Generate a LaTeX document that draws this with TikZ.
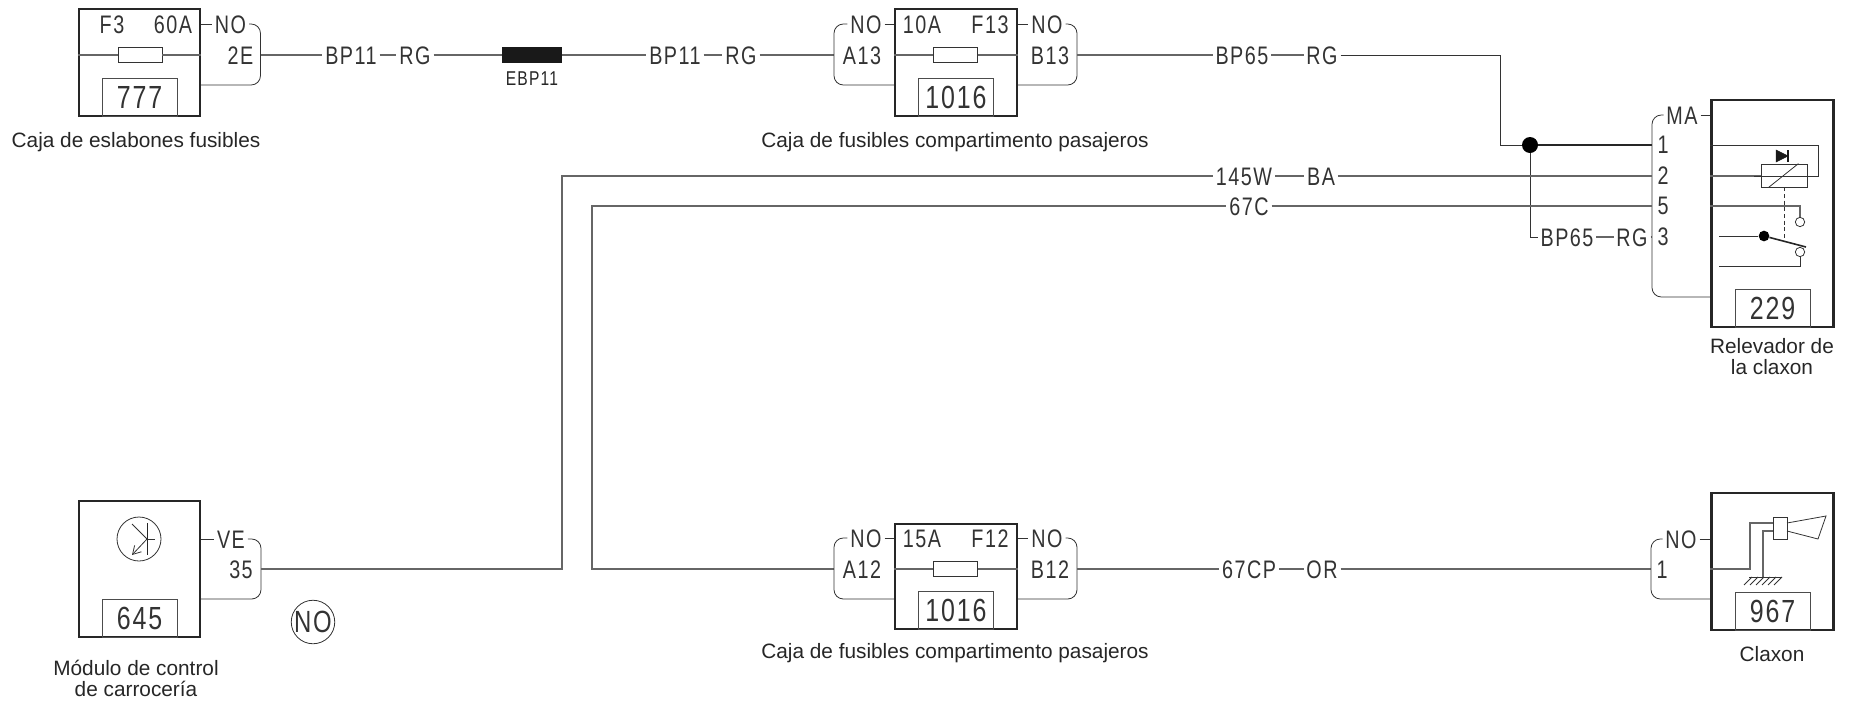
\documentclass[tikz,border=0pt]{standalone}
\usepackage{fontspec}
\setmainfont{Liberation Sans}
\newfontfamily\techfont[FakeStretch=0.78,LetterSpace=6]{Liberation Sans}
\usetikzlibrary{arrows.meta,positioning,calc}

\begin{document}
\begin{tikzpicture}[
    x=0.75pt, y=-0.75pt,
    unit/.style={rectangle, draw=black!85, line width=1.6pt, minimum width=91.5pt, minimum height=80.25pt, inner sep=0pt},
    fuse/.style={rectangle, draw=black!80, line width=0.6pt, fill=white, minimum width=33pt, minimum height=11pt, inner sep=0pt},
    tagbox/.style={rectangle, draw=black!70, line width=0.6pt, minimum width=56.25pt, minimum height=29pt, inner sep=0pt, text=black!80, font=\techfont\fontsize{24}{24}\selectfont},
    lab/.style={inner xsep=2pt, inner ysep=0pt, text height=13.5pt, text depth=0pt, text=black!80, font=\techfont\fontsize{19}{19}\selectfont},
    small/.style={inner xsep=1pt, inner ysep=0pt, text=black!85, font=\techfont\fontsize{15}{15}\selectfont},
    caption/.style={align=center, inner sep=0pt, text=black!85, font=\fontsize{15.6}{15.8}\selectfont},
    wire/.style={line width=0.8pt, draw=black!60},
    thin wire/.style={line width=0.6pt, draw=black!80},
    bracket/.style={line width=0.6pt, draw=black!80, rounded corners=7pt},
    junction/.style={circle, fill=black, draw=none, inner sep=0pt}
]
\useasboundingbox (0,0) rectangle (1849,701);

% fuse box 777
\node[unit, minimum width=90.75pt] (box777) at (139.5,62.5) {};
\node[tagbox, above=0pt of box777.south] (tag777) {777};
\node[fuse] (fuse777) at (140,55) {};
\node[lab] (f3) at (112,24) {F3};
\node[lab] (a60) at (173,24) {60A};
\node[lab] (no777) at (230.5,24) {NO};
\node[lab] (pin2e) at (240.5,55) {2E};
\node[caption] (cap777) at (136,142) {Caja de eslabones fusibles};
\coordinate (out777) at (260.5,55);
\coordinate (br777) at (260.5,85);
\draw[wire] (box777.west |- fuse777) -- (fuse777);
\draw[wire] (fuse777) -- (box777.east |- fuse777);
\draw[thin wire] (box777.east |- no777) -- (no777);
\draw[bracket] (no777.east) -| (br777) -- (box777.east |- br777);

% top wire
\node[lab] (bp11a) at (351,55) {BP11};
\node[lab] (rga) at (415,55) {RG};
\node[rectangle, fill=black!90, minimum width=45pt, minimum height=12pt, inner sep=0pt] (ebp) at (532,55) {};
\node[small, below=6.5pt of ebp.south] (ebptxt) {EBP11};
\node[lab] (bp11b) at (675,55) {BP11};
\node[lab] (rgb) at (741,55) {RG};
\draw[wire] (out777) -- (bp11a);
\draw[wire] (bp11a) -- (rga);
\draw[wire] (rga) -- (ebp);
\draw[wire] (ebp) -- (bp11b);
\draw[wire] (bp11b) -- (rgb);

% fuse box F13
\node[unit] (box13) at (956,62.5) {};
\node[tagbox, above=0pt of box13.south] (tag13) {1016};
\node[fuse] (fuse13) at (955.5,55) {};
\node[lab] (a10) at (922,24) {10A};
\node[lab] (f13) at (990,24) {F13};
\node[lab] (no13a) at (866,24) {NO};
\node[lab] (no13b) at (1047,24) {NO};
\node[lab] (a13) at (862,55) {A13};
\node[lab] (b13) at (1050,55) {B13};
\node[caption] (cap13) at (955,142) {Caja de fusibles compartimento pasajeros};
\coordinate (in13) at (834,55);
\coordinate (out13) at (1077,55);
\coordinate (brl13) at (834,85);
\coordinate (brr13) at (1077,85);
\draw[wire] (rgb) -- (in13);
\draw[wire] (box13.west |- fuse13) -- (fuse13);
\draw[wire] (fuse13) -- (box13.east |- fuse13);
\draw[thin wire] (no13a) -- (box13.west |- no13a);
\draw[thin wire] (box13.east |- no13b) -- (no13b);
\draw[bracket] (no13a.west) -| (brl13) -- (box13.west |- brl13);
\draw[bracket] (no13b.east) -| (brr13) -- (box13.east |- brr13);

% wires to the relay
\node[lab] (bp65a) at (1242,55) {BP65};
\node[lab] (rgc) at (1322,55) {RG};
\node[junction, minimum size=12pt] (dot) at (1530,145) {};
\coordinate (in1) at (1652,145);
\coordinate (in2) at (1652,176);
\coordinate (in5) at (1652,206);
\coordinate (in3) at (1652,237);
\coordinate (turn1) at (1500,145);
\node[lab] (bp65b) at (1567,237) {BP65};
\node[lab] (rgd) at (1632,237) {RG};
\draw[wire] (out13) -- (bp65a);
\draw[wire] (bp65a) -- (rgc);
\draw[thin wire] (rgc) -| (turn1) -- (dot);
\draw[line width=1.5pt, draw=black!85] (dot) -- (in1);
\draw[thin wire] (dot) |- (bp65b);
\draw[wire] (bp65b) -- (rgd);
\draw[wire] (rgd) -- (in3);

% relay 229
\node[unit, minimum height=170.25pt] (box229) at (1772.5,213.5) {};
\node[tagbox, above=0pt of box229.south] (tag229) {229};
\node[lab] (ma) at (1682,115) {MA};
\node[lab] (pin1) at (1663,144.5) {1};
\node[lab] (pin2) at (1663,175) {2};
\node[lab] (pin5) at (1663,205.5) {5};
\node[lab] (pin3) at (1663,236.5) {3};
\node[caption] (cap229) at (1772,357) {Relevador de\\la claxon};
\coordinate (br229) at (1652,297);
\draw[thin wire] (ma) -- (box229.west |- ma);
\draw[bracket] (ma.west) -| (br229) -- (box229.west |- br229);
% relay coil
\node[rectangle, draw=black!80, line width=0.6pt, minimum width=34.5pt, minimum height=17.25pt, inner sep=0pt] (coil) at (1784,175.5) {};
\coordinate (top1) at (1818,176);
\coordinate (top2) at (1754,156);
\coordinate (top3) at (1812,176);
\coordinate (pole) at (1764,236);
\coordinate (armend) at (1806,247);
\draw[thin wire] (box229.west |- in1) -| (top1) -- (coil.east |- top1);
\draw[wire] (box229.west |- in2) -- (coil.west |- in2);
\draw[thin wire] (1754,176) |- (top3);
\draw[thin wire] (coil.south west) ++(8,0) -- ($(coil.north east)+(-9,0)$);
% diode
\draw[fill=black!90, draw=black!90] (1776,150) -- (1788,156) -- (1776,162) -- cycle;
\draw[line width=1pt, draw=black!90] (1788,150) -- (1788,162);
% contacts
\node[circle, draw=black!80, line width=0.6pt, minimum size=7pt, inner sep=0pt] (cno) at (1800,222) {};
\node[circle, draw=black!80, line width=0.6pt, minimum size=7pt, inner sep=0pt] (cnc) at (1800,252) {};
\node[junction, minimum size=8pt] (polen) at (pole) {};
\coordinate (compl) at (1719,236);
\coordinate (nocl) at (1719,266);
\draw[wire] (box229.west |- in5) -| (cno);
\draw[thin wire] (compl) -- (polen);
\draw[line width=1.2pt, draw=black!85] (polen) -- (armend);
\draw[thin wire] (nocl) -| (cnc);
\draw[thin wire, densely dashed] (coil.south) -- (1784,239);

% module 645
\node[unit, minimum height=102pt, minimum width=90.75pt] (box645) at (139.5,569) {};
\node[tagbox, above=0pt of box645.south] (tag645) {645};
\node[circle, draw=black!80, line width=0.6pt, minimum size=33pt, inner sep=0pt] (trans) at (139,539) {};
\draw[line width=0.7pt, draw=black!85] (147,523) -- (147,555);
\draw[thin wire] (147,539) -- (155,539);
\draw[thin wire] (132,524) -- (147,539);
\draw[thin wire, -{Straight Barb[length=6pt,width=7pt]}] (147,539) -- (132,555);
\node[lab] (ve) at (231,539) {VE};
\node[lab] (pin35) at (241,569) {35};
\node[circle, draw=black!80, line width=0.6pt, minimum size=31pt, inner sep=0pt, text=black!80, font=\techfont\fontsize{23}{23}\selectfont] (nocirc) at (313,622) {NO};
\node[caption] (cap645) at (136,678.5) {Módulo de control\\de carrocería};
\coordinate (out645) at (261,569);
\coordinate (br645) at (261,599);
\coordinate (up145) at (562,176);
\draw[thin wire] (box645.east |- ve) -- (ve);
\draw[bracket] (ve.east) -| (br645) -- (box645.east |- br645);

% long wires
\node[lab] (w145) at (1244,176) {145W};
\node[lab] (ba) at (1321,176) {BA};
\node[lab] (w67c) at (1249,206) {67C};
\coordinate (up67) at (592,206);
\coordinate (in12) at (834,569);
\draw[wire] (out645) -| (up145) -- (w145);
\draw[wire] (w145) -- (ba);
\draw[wire] (ba) -- (in2);
\draw[wire] (in12) -| (up67) -- (w67c);
\draw[wire] (w67c) -- (in5);

% fuse box F12
\node[unit, minimum height=78.75pt] (box12) at (956,576.5) {};
\node[tagbox, above=0pt of box12.south] (tag12) {1016};
\node[fuse] (fuse12) at (955.5,569) {};
\node[lab] (a15) at (922,538) {15A};
\node[lab] (f12) at (990,538) {F12};
\node[lab] (no12a) at (866,538) {NO};
\node[lab] (no12b) at (1047,538) {NO};
\node[lab] (a12) at (862,569) {A12};
\node[lab] (b12) at (1050,569) {B12};
\node[caption] (cap12) at (955,653) {Caja de fusibles compartimento pasajeros};
\coordinate (out12) at (1077,569);
\coordinate (brl12) at (834,599);
\coordinate (brr12) at (1077,599);
\draw[wire] (box12.west |- fuse12) -- (fuse12);
\draw[wire] (fuse12) -- (box12.east |- fuse12);
\draw[thin wire] (no12a) -- (box12.west |- no12a);
\draw[thin wire] (box12.east |- no12b) -- (no12b);
\draw[bracket] (no12a.west) -| (brl12) -- (box12.west |- brl12);
\draw[bracket] (no12b.east) -| (brr12) -- (box12.east |- brr12);

% horn 967
\node[lab] (w67cp) at (1249,569) {67CP};
\node[lab] (orr) at (1322,569) {OR};
\node[unit, minimum height=102.75pt] (box967) at (1772.5,561.5) {};
\node[tagbox, above=0pt of box967.south] (tag967) {967};
\node[lab] (no967) at (1681,539) {NO};
\node[lab] (pin1b) at (1662,569) {1};
\node[caption] (cap967) at (1772,654) {Claxon};
\coordinate (in967) at (1651,569);
\coordinate (br967) at (1651,599);
\draw[wire] (out12) -- (w67cp);
\draw[wire] (w67cp) -- (orr);
\draw[wire] (orr) -- (in967);
\draw[thin wire] (no967) -- (box967.west |- no967);
\draw[bracket] (no967.west) -| (br967) -- (box967.west |- br967);
% horn symbol
\node[rectangle, draw=black!80, line width=0.6pt, minimum width=10.5pt, minimum height=16.5pt, inner sep=0pt] (horn) at (1780,528) {};
\coordinate (hornup) at (1750,523);
\coordinate (gnd) at (1763,577);
\draw[wire] (box967.west |- in967) -| (hornup) -- (horn.west |- hornup);
\draw[wire] (horn.west |- 1763,531) -| (gnd);
\draw[thin wire] (1787,523) -- (1826,516) -- (1818,539) -- (1787,531);
\draw[thin wire] (1749,577) -- (1781,577);
\foreach \hx in {1755,1761,1767,1773,1779,1785}
    \draw[thin wire] (\hx-3,577) -- (\hx-11,585);
\end{tikzpicture}
\end{document}
